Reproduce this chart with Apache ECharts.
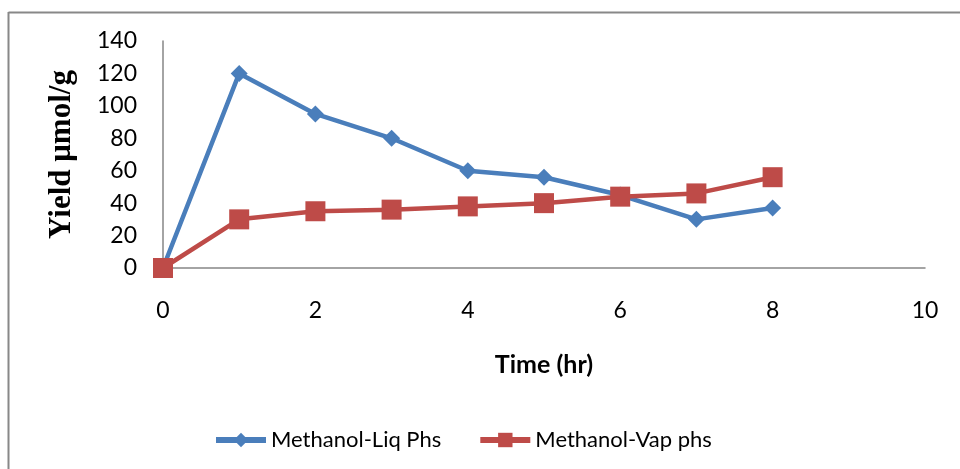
<!DOCTYPE html>
<html><head><meta charset="utf-8">
<script src="https://cdn.jsdelivr.net/npm/echarts@6/dist/echarts.min.js"></script>
<style>html,body{margin:0;padding:0;background:#fff}#c{width:960px;height:469px}</style>
</head><body><div id="c"></div>
<script>
const timeHr = [0, 1, 2, 3, 4, 5, 6, 7, 8];
const liqPhs = [0, 120, 95, 80, 60, 56, 45, 30, 37];
const vapPhs = [0, 30, 35, 36, 38, 40, 44, 46, 56];
const seriesNames = ['Methanol-Liq Phs', 'Methanol-Vap phs'];
const xTicks = [0, 2, 4, 6, 8, 10];
const yTicks = [0, 20, 40, 60, 80, 100, 120, 140];

const chart = echarts.init(document.getElementById('c'));
const tickFont = 'Lato, "Open Sans", sans-serif';
chart.setOption({
  animation: false,
  graphic: [
    {type: 'line', shape: {x1: 8.5, y1: 12.5, x2: 960, y2: 12.5}, style: {stroke: '#888', lineWidth: 2}},
    {type: 'line', shape: {x1: 8.5, y1: 12, x2: 8.5, y2: 469}, style: {stroke: '#888', lineWidth: 2}}
  ],
  grid: {left: 163, right: 35, top: 41, bottom: 201},
  xAxis: {
    type: 'value', min: xTicks[0], max: xTicks[xTicks.length - 1], interval: 2,
    axisLine: {lineStyle: {color: '#868686', width: 1.5}},
    axisTick: {show: false}, splitLine: {show: false},
    axisLabel: {color: '#000', fontSize: 23, fontFamily: tickFont, margin: 31},
    name: 'Time (hr)', nameLocation: 'middle', nameGap: 84,
    nameTextStyle: {color: '#000', fontSize: 25, fontWeight: 'bold', fontFamily: tickFont}
  },
  yAxis: {
    type: 'value', min: yTicks[0], max: yTicks[yTicks.length - 1], interval: 20,
    axisLine: {show: true, lineStyle: {color: '#868686', width: 1.5}},
    axisTick: {show: false}, splitLine: {show: false},
    axisLabel: {color: '#000', fontSize: 23, fontFamily: tickFont, margin: 26},
    name: 'Yield μmol/g', nameLocation: 'middle', nameGap: 86,
    nameTextStyle: {color: '#000', fontSize: 31, fontWeight: 'bold', fontFamily: '"Liberation Serif", serif'}
  },
  legend: {
    top: 424, left: 208, itemWidth: 50, itemHeight: 18, itemGap: 36,
    textStyle: {color: '#000', fontSize: 22, fontFamily: tickFont},
    data: [
      {name: seriesNames[0], lineStyle: {width: 6, color: '#4a7ebb'}},
      {name: seriesNames[1], lineStyle: {width: 6, color: '#be4b48'}}
    ]
  },
  series: [
    {
      name: seriesNames[0], type: 'line',
      data: timeHr.map((t, i) => [t, liqPhs[i]]),
      symbol: 'diamond', symbolSize: 17,
      lineStyle: {color: '#4a7ebb', width: 4.5},
      itemStyle: {color: '#4a7ebb'}
    },
    {
      name: seriesNames[1], type: 'line',
      data: timeHr.map((t, i) => [t, vapPhs[i]]),
      symbol: 'rect', symbolSize: 20,
      lineStyle: {color: '#be4b48', width: 4.5},
      itemStyle: {color: '#be4b48'}
    }
  ]
});
</script></body></html>
